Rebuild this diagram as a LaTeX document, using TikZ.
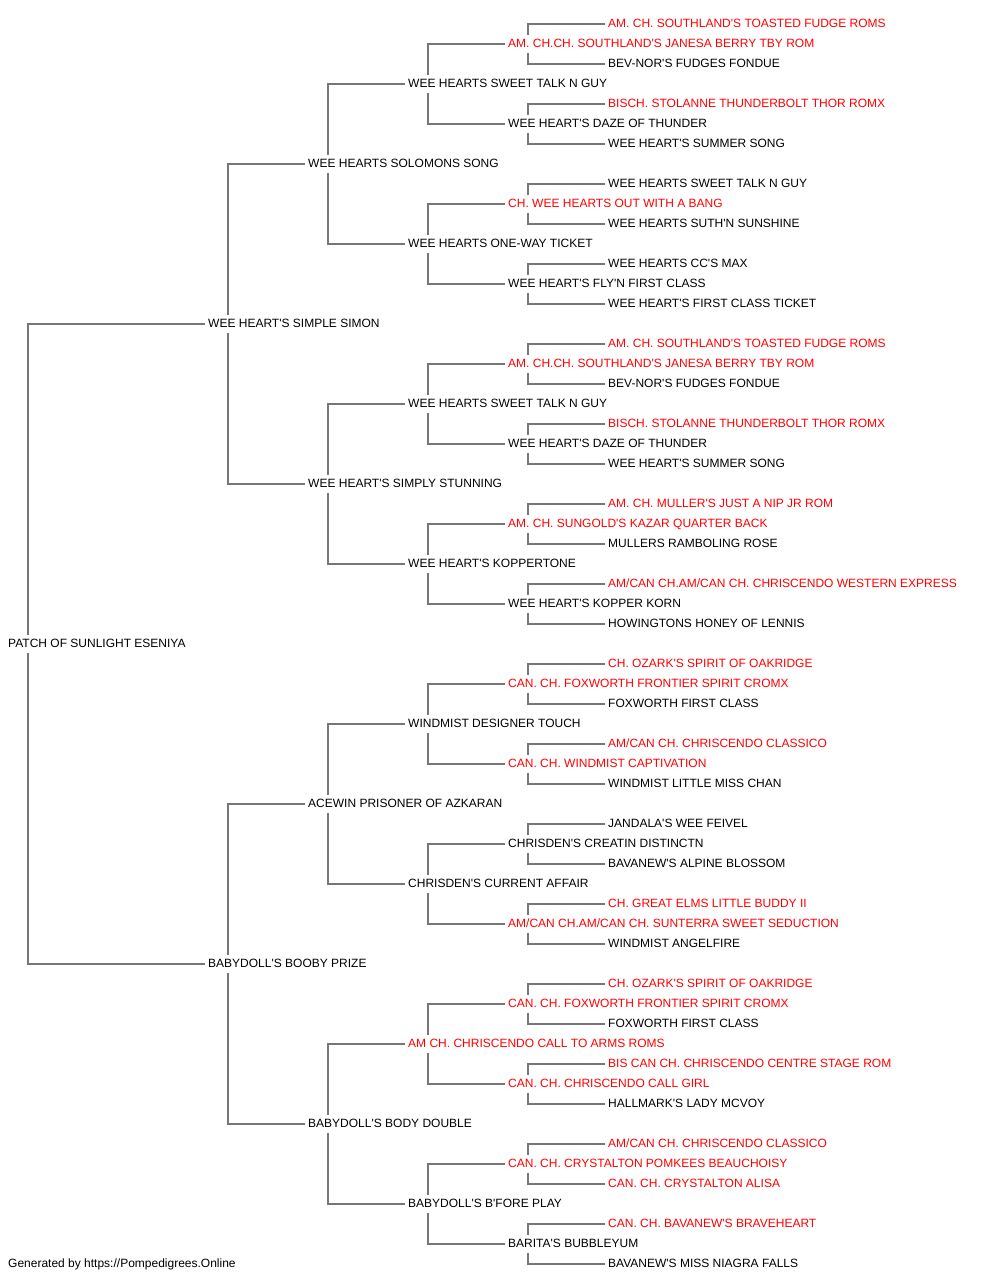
\documentclass[tikz,border=0pt]{standalone}
\usepackage{fontspec}
\setmainfont{Liberation Sans}[Ligatures=TeXOff]
\definecolor{pedred}{HTML}{FF0000}
\definecolor{linegray}{HTML}{777777}
\tikzset{
  pn/.style={anchor=west, inner xsep=3pt, inner ysep=3pt, text height=9pt, text depth=3pt,
    font=\fontsize{12pt}{14pt}\selectfont, text=black},
  redname/.style={pn, text=pedred},
  conn/.style={draw=linegray, line width=1.6pt},
}
% \pn{index}{level}{style}{text}
\newcommand\pn[4]{\pgfmathsetmacro\pnx{(#2==0)?5:(105+100*#2)}\node[#3] (n#1) at (\pnx,{24+20*#1}) {#4};}
\begin{document}
\begin{tikzpicture}[x=1pt,y=-1pt]
\useasboundingbox (0,0) rectangle (1000,1280);
\pn{0}{5}{redname}{AM. CH. SOUTHLAND'S TOASTED FUDGE ROMS}
\pn{1}{4}{redname}{AM. CH.CH. SOUTHLAND'S JANESA BERRY TBY ROM}
\pn{2}{5}{pn}{BEV-NOR'S FUDGES FONDUE}
\pn{3}{3}{pn}{WEE HEARTS SWEET TALK N GUY}
\pn{4}{5}{redname}{BISCH. STOLANNE THUNDERBOLT THOR ROMX}
\pn{5}{4}{pn}{WEE HEART'S DAZE OF THUNDER}
\pn{6}{5}{pn}{WEE HEART'S SUMMER SONG}
\pn{7}{2}{pn}{WEE HEARTS SOLOMONS SONG}
\pn{8}{5}{pn}{WEE HEARTS SWEET TALK N GUY}
\pn{9}{4}{redname}{CH. WEE HEARTS OUT WITH A BANG}
\pn{10}{5}{pn}{WEE HEARTS SUTH'N SUNSHINE}
\pn{11}{3}{pn}{WEE HEARTS ONE-WAY TICKET}
\pn{12}{5}{pn}{WEE HEARTS CC'S MAX}
\pn{13}{4}{pn}{WEE HEART'S FLY'N FIRST CLASS}
\pn{14}{5}{pn}{WEE HEART'S FIRST CLASS TICKET}
\pn{15}{1}{pn}{WEE HEART'S SIMPLE SIMON}
\pn{16}{5}{redname}{AM. CH. SOUTHLAND'S TOASTED FUDGE ROMS}
\pn{17}{4}{redname}{AM. CH.CH. SOUTHLAND'S JANESA BERRY TBY ROM}
\pn{18}{5}{pn}{BEV-NOR'S FUDGES FONDUE}
\pn{19}{3}{pn}{WEE HEARTS SWEET TALK N GUY}
\pn{20}{5}{redname}{BISCH. STOLANNE THUNDERBOLT THOR ROMX}
\pn{21}{4}{pn}{WEE HEART'S DAZE OF THUNDER}
\pn{22}{5}{pn}{WEE HEART'S SUMMER SONG}
\pn{23}{2}{pn}{WEE HEART'S SIMPLY STUNNING}
\pn{24}{5}{redname}{AM. CH. MULLER'S JUST A NIP JR ROM}
\pn{25}{4}{redname}{AM. CH. SUNGOLD'S KAZAR QUARTER BACK}
\pn{26}{5}{pn}{MULLERS RAMBOLING ROSE}
\pn{27}{3}{pn}{WEE HEART'S KOPPERTONE}
\pn{28}{5}{redname}{AM/CAN CH.AM/CAN CH. CHRISCENDO WESTERN EXPRESS}
\pn{29}{4}{pn}{WEE HEART'S KOPPER KORN}
\pn{30}{5}{pn}{HOWINGTONS HONEY OF LENNIS}
\pn{31}{0}{pn}{PATCH OF SUNLIGHT ESENIYA}
\pn{32}{5}{redname}{CH. OZARK'S SPIRIT OF OAKRIDGE}
\pn{33}{4}{redname}{CAN. CH. FOXWORTH FRONTIER SPIRIT CROMX}
\pn{34}{5}{pn}{FOXWORTH FIRST CLASS}
\pn{35}{3}{pn}{WINDMIST DESIGNER TOUCH}
\pn{36}{5}{redname}{AM/CAN CH. CHRISCENDO CLASSICO}
\pn{37}{4}{redname}{CAN. CH. WINDMIST CAPTIVATION}
\pn{38}{5}{pn}{WINDMIST LITTLE MISS CHAN}
\pn{39}{2}{pn}{ACEWIN PRISONER OF AZKARAN}
\pn{40}{5}{pn}{JANDALA'S WEE FEIVEL}
\pn{41}{4}{pn}{CHRISDEN'S CREATIN DISTINCTN}
\pn{42}{5}{pn}{BAVANEW'S ALPINE BLOSSOM}
\pn{43}{3}{pn}{CHRISDEN'S CURRENT AFFAIR}
\pn{44}{5}{redname}{CH. GREAT ELMS LITTLE BUDDY II}
\pn{45}{4}{redname}{AM/CAN CH.AM/CAN CH. SUNTERRA SWEET SEDUCTION}
\pn{46}{5}{pn}{WINDMIST ANGELFIRE}
\pn{47}{1}{pn}{BABYDOLL'S BOOBY PRIZE}
\pn{48}{5}{redname}{CH. OZARK'S SPIRIT OF OAKRIDGE}
\pn{49}{4}{redname}{CAN. CH. FOXWORTH FRONTIER SPIRIT CROMX}
\pn{50}{5}{pn}{FOXWORTH FIRST CLASS}
\pn{51}{3}{redname}{AM CH. CHRISCENDO CALL TO ARMS ROMS}
\pn{52}{5}{redname}{BIS CAN CH. CHRISCENDO CENTRE STAGE ROM}
\pn{53}{4}{redname}{CAN. CH. CHRISCENDO CALL GIRL}
\pn{54}{5}{pn}{HALLMARK'S LADY MCVOY}
\pn{55}{2}{pn}{BABYDOLL'S BODY DOUBLE}
\pn{56}{5}{redname}{AM/CAN CH. CHRISCENDO CLASSICO}
\pn{57}{4}{redname}{CAN. CH. CRYSTALTON POMKEES BEAUCHOISY}
\pn{58}{5}{redname}{CAN. CH. CRYSTALTON ALISA}
\pn{59}{3}{pn}{BABYDOLL'S B'FORE PLAY}
\pn{60}{5}{redname}{CAN. CH. BAVANEW'S BRAVEHEART}
\pn{61}{4}{pn}{BARITA'S BUBBLEYUM}
\pn{62}{5}{pn}{BAVANEW'S MISS NIAGRA FALLS}
\foreach \i/\s in {1/1,3/2,5/1,7/4,9/1,11/2,13/1,15/8,17/1,19/2,21/1,23/4,25/1,27/2,29/1,31/16,
                   33/1,35/2,37/1,39/4,41/1,43/2,45/1,47/8,49/1,51/2,53/1,55/4,57/1,59/2,61/1}{
  \pgfmathtruncatemacro\sa{\i-\s}
  \pgfmathtruncatemacro\da{\i+\s}
  \draw[conn] ([xshift=23pt]n\i.north west) |- (n\sa.west);
  \draw[conn] ([xshift=23pt]n\i.south west) |- (n\da.west);
}
\node[pn] (footer) at (5,1264) {Generated by https://Pompedigrees.Online};
\end{tikzpicture}
\end{document}
